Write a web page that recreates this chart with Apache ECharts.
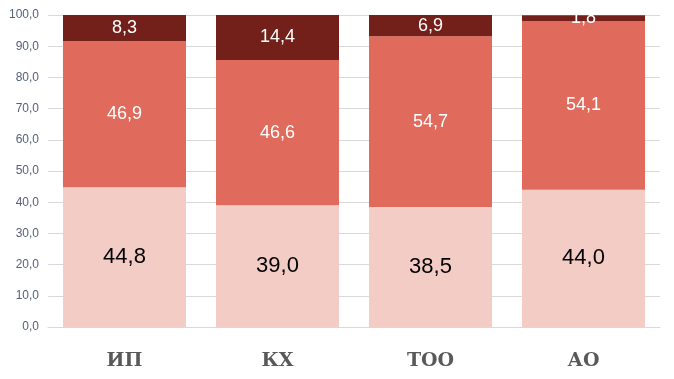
<!DOCTYPE html>
<html><head><meta charset="utf-8">
<script src="https://cdn.jsdelivr.net/npm/echarts@6/dist/echarts.min.js"></script>
<style>html,body{margin:0;padding:0;background:#fff}#c{width:674px;height:379px}</style>
</head><body><div id="c"></div>
<script>
const categories = ['ИП', 'КХ', 'ТОО', 'АО'];
const bottomValues = [44.8, 39.0, 38.5, 44.0];
const middleValues = [46.9, 46.6, 54.7, 54.1];
const topValues = [8.3, 14.4, 6.9, 1.8];
const fmt = v => v.toFixed(1).replace('.', ',');
const chart = echarts.init(document.getElementById('c'));
const serif = '"DejaVu Serif", "Liberation Serif", serif';
const sans = '"Liberation Sans", Arial, sans-serif';
function series(data, color, labelColor, size) {
  return {
    type: 'bar', stack: 's', data: data, barWidth: 123,
    itemStyle: { color: color },
    label: { show: true, position: 'inside', color: labelColor, fontFamily: sans, fontSize: size,
      formatter: p => fmt(p.value) },
    animation: false
  };
}
chart.setOption({
  animation: false,
  grid: { left: 48, right: 14, top: 15, bottom: 52 },
  xAxis: { type: 'category', data: categories,
    axisLine: { lineStyle: { color: '#d9d9d9' } }, axisTick: { show: false },
    axisLabel: { color: '#595959', fontFamily: serif, fontWeight: 'bold', fontSize: 19, margin: 25 } },
  yAxis: { type: 'value', min: 0, max: 100, interval: 10,
    axisLine: { show: false }, axisTick: { show: false },
    splitLine: { lineStyle: { color: '#d9d9d9' } },
    axisLabel: { color: '#56607a', fontFamily: sans, fontSize: 12, margin: 9, formatter: v => fmt(v) } },
  series: [
    series(bottomValues, '#F4CCC6', '#000000', 22),
    series(middleValues, '#E06B5D', '#ffffff', 18),
    series(topValues, '#722019', '#ffffff', 18)
  ]
});
</script></body></html>
